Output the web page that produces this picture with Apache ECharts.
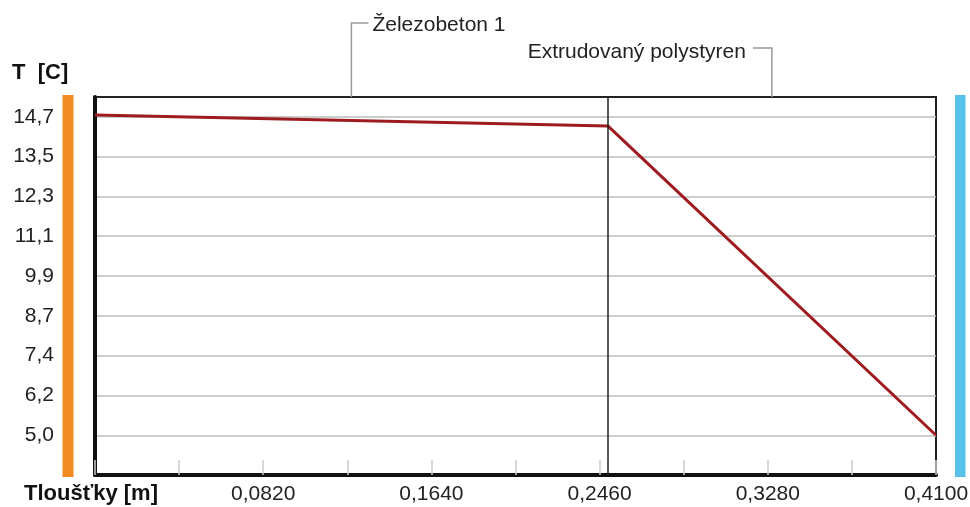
<!DOCTYPE html>
<html>
<head>
<meta charset="utf-8">
<title>Teplotní průběh</title>
<script src="https://cdn.jsdelivr.net/npm/echarts@6/dist/echarts.min.js"></script>
<style>
  html, body { margin: 0; padding: 0; background: #fff; }
  #chart { width: 970px; height: 507px; }
</style>
</head>
<body>
<div id="chart"></div>
<script>
// layers of the wall
const layerNames = ['Železobeton 1', 'Extrudovaný polystyren']
const layerBounds = [0, 0.25, 0.41]

// temperature profile through the wall
const depth = [0, 0.25, 0.41]
const temperature = [14.75, 14.42, 5.0]

// axis ticks
const yTickValues = [5.0, 6.2125, 7.425, 8.6375, 9.85, 11.0625, 12.275, 13.4875, 14.7]
const yTickLabels = ['5,0', '6,2', '7,4', '8,7', '9,9', '11,1', '12,3', '13,5', '14,7']
const xTickStep = 0.041

const font = "'Liberation Sans', Arial, sans-serif"
const textColor = '#222'

const chart = echarts.init(document.getElementById('chart'))

const option = {
  animation: false,
  grid: {
    left: 95,
    right: 34,
    top: 97,
    bottom: 32,
    containLabel: false,
    outerBoundsMode: 'none',
    show: true,
    borderColor: '#222',
    borderWidth: 2,
    backgroundColor: '#fff'
  },
  xAxis: {
    type: 'value',
    min: 0,
    max: 0.41,
    interval: xTickStep,
    axisLine: { lineStyle: { color: '#111', width: 4 } },
    axisTick: { show: true, inside: true, length: 15, lineStyle: { color: '#ccc', width: 1.5 } },
    splitLine: { show: false },
    axisLabel: {
      margin: 9,
      fontFamily: font,
      fontSize: 21,
      color: textColor,
      formatter: (v) => {
        const k = Math.round(v / xTickStep)
        if (k === 0 || k % 2 !== 0) return ''
        return v.toFixed(4).replace('.', ',')
      }
    }
  },
  yAxis: {
    type: 'value',
    min: 3.79,
    max: 15.3,
    axisLine: { show: true, lineStyle: { color: '#111', width: 4 } },
    axisTick: { show: false, customValues: yTickValues },
    splitLine: { show: true, lineStyle: { color: '#bdbdbd', width: 1.5 } },
    axisLabel: {
      customValues: yTickValues,
      margin: 41,
      fontFamily: font,
      fontSize: 21,
      color: textColor,
      padding: [8, 0, 0, 0],
      formatter: (v) => {
        let best = 0
        yTickValues.forEach((t, i) => {
          if (Math.abs(t - v) < Math.abs(yTickValues[best] - v)) best = i
        })
        return yTickLabels[best]
      }
    }
  },
  series: [
    {
      type: 'line',
      data: depth.map((d, i) => [d, temperature[i]]),
      showSymbol: false,
      lineStyle: { color: '#9e1b1f', width: 3 },
      z: 3,
      markLine: {
        silent: true,
        symbol: 'none',
        label: { show: false },
        lineStyle: { color: '#222', width: 1.5, type: 'solid' },
        data: layerBounds.slice(1, -1).map((b) => ({ xAxis: b }))
      }
    }
  ]
}
chart.setOption(option)

// decorations: environment bars, axis names, layer labels
const px = (x, y) => chart.convertToPixel({ gridIndex: 0 }, [x, y])
const [x0, yTop] = px(0, 15.3)
const [x1, yBot] = px(0.41, 3.79)

const graphics = [
  { type: 'rect', shape: { x: x0 - 32.5, y: yTop - 2, width: 11, height: yBot - yTop + 4 }, style: { fill: '#f28a22' } },
  { type: 'rect', shape: { x: x1 + 19, y: yTop - 2, width: 10.5, height: yBot - yTop + 4 }, style: { fill: '#57c1ea' } },
  { type: 'text', x: 12, y: 73, style: { text: 'T  [C]', font: "bold 22px 'Liberation Sans', Arial, sans-serif", fill: '#111', verticalAlign: 'middle' } },
  { type: 'text', x: 24, y: 494, style: { text: 'Tloušťky [m]', font: "bold 22px 'Liberation Sans', Arial, sans-serif", fill: '#111', verticalAlign: 'middle' } }
]

const labelY = [23, 48]
layerNames.forEach((name, i) => {
  const mx = px((layerBounds[i] + layerBounds[i + 1]) / 2, 15.3)[0]
  const ly = labelY[i]
  const right = i === 0
  const hx = right ? mx + 17 : mx - 19
  graphics.push({
    type: 'polyline',
    shape: { points: [[mx, yTop], [mx, ly], [hx, ly]] },
    style: { stroke: '#9a9a9a', lineWidth: 1.5, fill: null }
  })
  graphics.push({
    type: 'text',
    x: right ? hx + 4 : hx - 7,
    y: ly + (right ? 2 : 4),
    style: {
      text: name,
      font: '21px ' + font,
      fill: textColor,
      align: right ? 'left' : 'right',
      verticalAlign: 'middle'
    }
  })
})

chart.setOption({ graphic: graphics })
</script>
</body>
</html>
